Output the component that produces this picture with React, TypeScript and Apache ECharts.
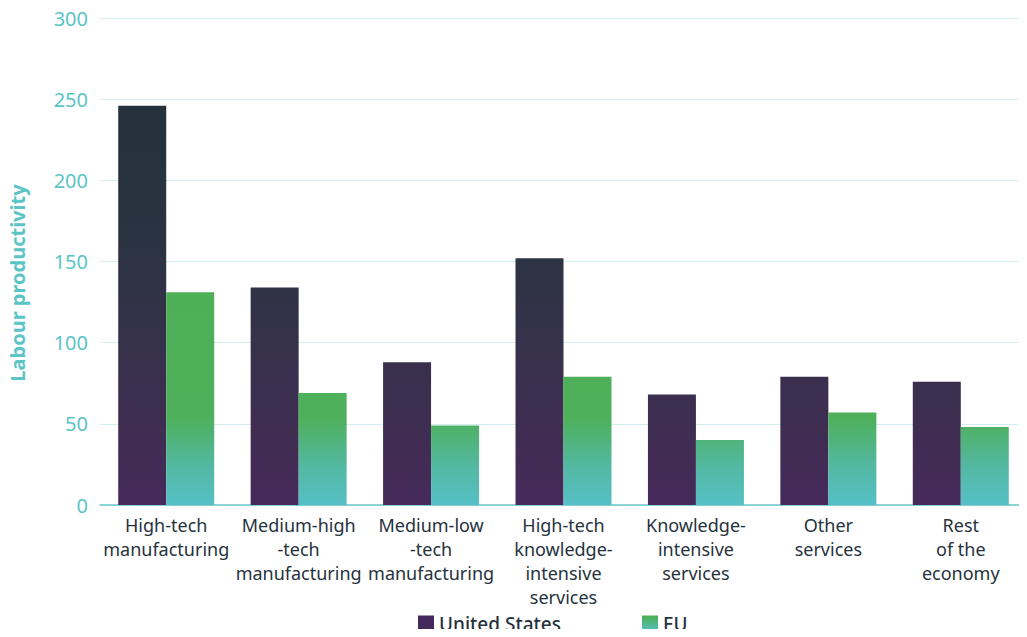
import React, { useEffect, useRef } from "react";
import * as echarts from "echarts";

const categories = [
  "High-tech\nmanufacturing",
  "Medium-high\n-tech\nmanufacturing",
  "Medium-low\n-tech\nmanufacturing",
  "High-tech\nknowledge-\nintensive\nservices",
  "Knowledge-\nintensive\nservices",
  "Other\nservices",
  "Rest\nof the\neconomy",
];
const usValues = [246, 134, 88, 152, 68, 79, 76];
const euValues = [131, 69, 49, 79, 40, 57, 48];
const yTicks = { min: 0, max: 300, interval: 50 };
const yTitle = "Labour productivity";

const FONT = "'Noto Sans', 'Open Sans', sans-serif";

export default function App() {
  const ref = useRef<HTMLDivElement>(null);
  useEffect(() => {
    if (!ref.current) return;
    const chart = echarts.init(ref.current, null, { renderer: "svg" });
    const gridTop = 18;
    const gridBottomPx = 505;
    const usGrad = new echarts.graphic.LinearGradient(
      0, gridBottomPx, 0, gridTop,
      [
        { offset: 0, color: "#462a5a" },
        { offset: 0.15, color: "#3f2d52" },
        { offset: 0.35, color: "#35324a" },
        { offset: 0.55, color: "#2a3341" },
        { offset: 0.75, color: "#25323d" },
        { offset: 1, color: "#25323d" },
      ],
      true
    );
    const euGrad = new echarts.graphic.LinearGradient(
      0, gridBottomPx, 0, gridTop,
      [
        { offset: 0, color: "#56c0c6" },
        { offset: 0.08, color: "#53b8a2" },
        { offset: 0.18, color: "#4eb05a" },
        { offset: 1, color: "#4caf50" },
      ],
      true
    );
    const usLegend = new echarts.graphic.LinearGradient(0, 0, 0, 1, [
      { offset: 0, color: "#45295a" },
      { offset: 1, color: "#45295a" },
    ]);
    const euLegend = new echarts.graphic.LinearGradient(0, 0, 0, 1, [
      { offset: 0, color: "#4caf50" },
      { offset: 1, color: "#56c0c6" },
    ]);
    chart.setOption({
      animation: false,
      textStyle: { fontFamily: FONT },
      grid: { left: 100, right: 0, top: gridTop, bottom: 637 - gridBottomPx, containLabel: false },
      graphic: [
        {
          type: "text",
          x: 17,
          y: 283,
          rotation: Math.PI / 2,
          style: {
            text: yTitle,
            fill: "#5bc4c6",
            font: "bold 20px 'Noto Sans', sans-serif",
            align: "center",
            verticalAlign: "middle",
          },
        },
      ],
      legend: {
        top: 614,
        left: 418,
        padding: 0,
        itemWidth: 16,
        itemHeight: 16,
        itemGap: 81,
        icon: "rect",
        textStyle: { fontSize: 19, fontWeight: 500, color: "#26323d", fontFamily: FONT },
        data: [
          { name: "United States", itemStyle: { color: usLegend } },
          { name: "EU", itemStyle: { color: euLegend } },
        ],
      },
      xAxis: {
        type: "category",
        data: categories,
        axisLine: { lineStyle: { color: "#6cc6c8", width: 1.5 } },
        axisTick: { show: false },
        axisLabel: {
          interval: 0,
          color: "#26323d",
          fontSize: 18,
          lineHeight: 24,
          margin: 8,
          fontFamily: FONT,
        },
      },
      yAxis: {
        type: "value",
        min: yTicks.min,
        max: yTicks.max,
        interval: yTicks.interval,
        axisLine: { show: false },
        axisTick: { show: false },
        splitLine: { lineStyle: { color: "#d3eeef", width: 1 } },
        axisLabel: { color: "#5bc4c6", fontSize: 20, margin: 12, fontFamily: FONT },
      },
      series: [
        {
          name: "United States",
          type: "bar",
          data: usValues,
          barWidth: 48,
          barGap: "0%",
          itemStyle: { color: usGrad },
        },
        {
          name: "EU",
          type: "bar",
          data: euValues,
          barWidth: 48,
          itemStyle: { color: euGrad },
        },
      ],
    });
    return () => chart.dispose();
  }, []);
  return <div ref={ref} style={{ width: 1027, height: 637, margin: -8 }} />;
}
